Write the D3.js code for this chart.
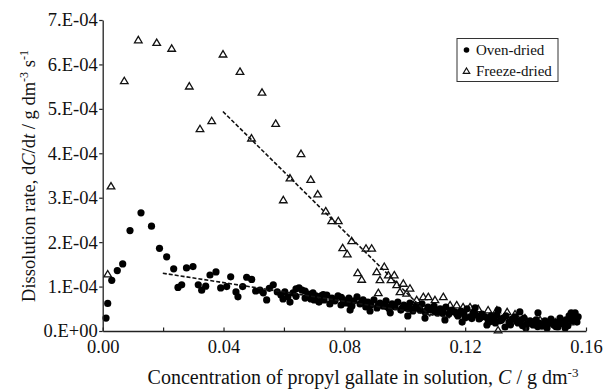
<!DOCTYPE html>
<html><head><meta charset="utf-8">
<script src="https://cdn.jsdelivr.net/npm/d3@7"></script>
<style>body{margin:0;background:#fff}svg{display:block}</style>
</head><body>
<svg id="chart" width="607" height="389"></svg>
<script>
// Concentration C (g dm^-3) and dissolution rate in units of 1e-4 g dm^-3 s^-1
const ovenC = [0.0011,0.00166,0.0030,0.00483,0.00662,0.00904,0.01268,0.01615,0.0188,0.02118,0.0235,0.02492,0.02615,0.02774,0.02989,0.03164,0.03277,0.0341,0.03552,0.0375,0.03906,0.04104,0.04237,0.04412,0.04478,0.04634,0.04766,0.04932,0.05064,0.05207,0.05316,0.05428,0.05515,0.05647,0.05779,
0.0590,0.0597,0.0603,0.0613,0.0620,0.0630,0.0640,0.0650,0.0660,0.0670,0.0680,0.0689,0.0696,0.0706,0.0716,0.0723,0.0733,0.0742,0.0752,0.0759,0.0769,0.0779,0.0789,0.0796,0.0805,0.0815,0.0825,0.0832,0.0842,0.0852,0.0862,0.0871,0.0878,0.0888,0.0898,0.0908,0.0918,0.0928,0.0938,0.0948,0.0958,0.0968,0.0977,0.0987,0.0997,0.1007,0.1017,0.1027,0.1037,0.1047,0.1057,0.1067,0.1077,0.1087,0.1097,0.1107,0.1117,0.1127,0.1136,0.1146,0.1156,0.1166,0.1176,0.1186,0.1196,0.1206,0.1216,0.1226,0.1236,0.1246,0.1256,0.1266,0.1276,0.1286,0.1296,0.1305,0.1315,0.1325,0.1335,0.1345,0.1355,0.1365,0.1375,0.1385,0.1395,0.1405,0.1415,0.1425,0.1435,0.1445,0.1454,0.1464,0.1474,0.1484,0.1494,0.1504,0.1514,0.1524,0.1534,0.1544,0.1554,0.1564,0.1574,
0.1233,0.1272,0.1309,0.1332,0.1381,0.1401,0.1441,0.1471,0.1507,0.1531,0.1551,0.1190,0.1133,0.1067,0.1010,0.0952,0.0885,0.0819,
0.0858,0.0885,0.0912,0.0940,0.0962,0.0992,0.1020,0.1050,0.1072,0.1100,0.1125,0.1150,0.1172,0.1200,0.1222,0.1250,0.1280,0.1300,0.1320,0.1350,0.1370,0.1390,0.1420,0.1440,0.1460,0.1480,0.1500,0.1520,0.1540,0.1560,0.1570,0.0640,0.0670,0.0700,0.0730,0.0760,0.0790,0.0820];
const ovenRate = [0.29,0.62,1.14,1.36,1.51,2.26,2.66,2.36,1.86,1.67,1.40,0.98,1.04,1.42,1.45,1.04,0.92,1.01,1.26,1.33,0.97,1.00,1.22,0.88,0.77,1.00,1.21,1.16,0.90,0.92,0.86,0.70,0.96,1.04,0.88,
0.81,0.72,0.88,0.77,0.65,0.86,0.95,0.97,0.92,0.90,0.83,0.72,0.86,0.79,0.65,0.79,0.70,0.81,0.61,0.74,0.68,0.79,0.585,0.70,0.63,0.74,0.56,0.68,0.77,0.61,0.70,0.54,0.65,0.585,0.70,0.52,0.63,0.56,0.68,0.50,0.61,0.54,0.65,0.47,0.585,0.52,0.63,0.45,0.56,0.50,0.61,0.43,0.54,0.47,0.56,0.41,0.50,0.45,0.54,0.38,0.47,0.43,0.34,0.45,0.38,0.50,0.32,0.41,0.36,0.27,0.38,0.32,0.25,0.34,0.27,0.36,0.23,0.29,0.34,0.20,0.27,0.32,0.18,0.25,0.29,0.16,0.23,0.135,0.25,0.18,0.11,0.23,0.16,0.27,0.135,0.20,0.29,0.16,0.25,0.34,0.23,0.41,0.32,
0.52,0.135,0.47,0.09,0.43,0.07,0.41,0.07,0.09,0.07,0.41,0.20,0.25,0.29,0.34,0.41,0.45,0.47,
0.66,0.62,0.58,0.55,0.57,0.52,0.50,0.48,0.46,0.44,0.40,0.42,0.38,0.30,0.28,0.30,0.20,0.18,0.24,0.14,0.22,0.12,0.20,0.10,0.14,0.20,0.10,0.20,0.12,0.28,0.20,0.78,0.74,0.70,0.82,0.72,0.76,0.60];

const freezeC = [0.00166,0.00275,0.00715,0.01179,0.01788,0.02284,0.02867,0.03221,0.03609,0.03983,0.04545,0.04926,0.05274,0.05727,0.05979,0.0620,0.06565,0.06886,0.07118,0.07383,0.07581,0.0780,0.07945,0.08098,0.08243,0.08442,0.08574,0.08717,0.08905,0.09071,0.09124,0.0918,0.09322,0.09455,0.09544,0.09653,0.09733,0.09842,0.09952,0.10064,0.10173,0.10395,0.10614,0.10779,0.1100,0.11276,0.1150,0.11719,0.1193,0.1216,0.1243,0.1276,0.1305,0.1309,0.1339,0.1365,0.1398,0.1448,0.1498,0.1547];
const freezeRate = [1.28,3.26,5.63,6.55,6.49,6.36,5.51,4.55,4.73,6.23,5.84,4.34,5.37,4.67,2.95,3.44,3.99,3.41,3.08,2.70,2.48,2.48,1.87,1.73,2.03,1.31,1.16,1.86,1.86,1.33,0.86,1.15,1.45,1.26,1.15,1.26,1.04,0.88,1.07,0.85,0.96,0.70,0.77,0.77,0.70,0.77,0.585,0.585,0.54,0.54,0.50,0.47,0.47,0.02,0.43,0.38,0.29,0.25,0.20,0.20];

const freezeFitC = [0.0398, 0.1085];
const freezeFitRate = [4.94, 0.33];
const ovenFitC = [0.0199, 0.115];
const ovenFitRate = [1.30, 0.30];

const xTicks = [0,0.02,0.04,0.06,0.08,0.10,0.12,0.14,0.16];
const xTickLabels = ["0.00","","0.04","","0.08","","0.12","","0.16"];
const yTicks = [0,1,2,3,4,5,6,7];
const yTickLabels = ["0.E+00","1.E-04","2.E-04","3.E-04","4.E-04","5.E-04","6.E-04","7.E-04"];
const seriesNames = ["Oven-dried","Freeze-dried"];

const svg = d3.select("#chart");
svg.append("rect").attr("width",607).attr("height",389).attr("fill","#fff");
const FONT = "'Liberation Serif','Times New Roman',serif";
const x = d3.scaleLinear().domain([0,0.16]).range([102.7,586]);
const y = d3.scaleLinear().domain([0,7]).range([331,20]);

const tri = "M0,-3.6L3.8,2.8L-3.8,2.8Z";

svg.append("g").selectAll("path").data(freezeC.map((c,i)=>[c,freezeRate[i]])).join("path")
  .attr("d",tri).attr("transform",d=>`translate(${x(d[0])},${y(d[1])})`)
  .attr("fill","#fff").attr("stroke","#111").attr("stroke-width",1.3);

svg.append("g").selectAll("circle").data(ovenC.map((c,i)=>[c,ovenRate[i]])).join("circle")
  .attr("cx",d=>x(d[0])).attr("cy",d=>y(d[1])).attr("r",3.6).attr("fill","#000");

const line = d3.line().x(d=>x(d[0])).y(d=>y(d[1]));
[[freezeFitC,freezeFitRate],[ovenFitC,ovenFitRate]].forEach(([cs,rs])=>{
  svg.append("path").attr("d",line(cs.map((c,i)=>[c,rs[i]])))
    .attr("fill","none").attr("stroke","#111").attr("stroke-width",1.6).attr("stroke-dasharray","4,2");
});

const xAxis = d3.axisBottom(x).tickValues(xTicks).tickFormat((d,i)=>xTickLabels[i]).tickSize(-3.5).tickSizeOuter(0).tickPadding(9);
const gx = svg.append("g").attr("transform","translate(0,331)").call(xAxis);
const yAxis = d3.axisLeft(y).tickValues(yTicks).tickFormat((d,i)=>yTickLabels[i]).tickSize(3.5).tickSizeOuter(0).tickPadding(1.5);
const gy = svg.append("g").attr("transform","translate(102.7,0)").call(yAxis);
[gx,gy].forEach(g=>{
  g.select(".domain").attr("stroke","#222").attr("stroke-width",1.3);
  g.selectAll(".tick line").attr("stroke","#222").attr("stroke-width",1.2);
  g.selectAll("text").attr("font-family",FONT).attr("font-size",18.5).attr("fill","#111");
});

const xt = svg.append("text").attr("x",363).attr("y",384).attr("text-anchor","middle")
  .attr("font-family",FONT).attr("font-size",20).attr("fill","#111");
xt.append("tspan").text("Concentration of propyl gallate in solution, ");
xt.append("tspan").attr("font-style","italic").text("C");
xt.append("tspan").text(" / g dm");
xt.append("tspan").attr("dy",-7).attr("font-size",13).text("-3");

const yt = svg.append("text").attr("transform","translate(35,176) rotate(-90)").attr("text-anchor","middle")
  .attr("font-family",FONT).attr("font-size",18.5).attr("fill","#111");
yt.append("tspan").text("Dissolution rate, d");
yt.append("tspan").attr("font-style","italic").text("C");
yt.append("tspan").text("/d");
yt.append("tspan").attr("font-style","italic").text("t");
yt.append("tspan").text(" / g dm");
yt.append("tspan").attr("dy",-7).attr("font-size",12).text("-3");
yt.append("tspan").attr("dy",7).text(" s");
yt.append("tspan").attr("dy",-7).attr("font-size",12).text("-1");

const lg = svg.append("g");
lg.append("rect").attr("x",457).attr("y",38.5).attr("width",101).attr("height",43)
  .attr("fill","#fff").attr("stroke","#333").attr("stroke-width",1);
lg.append("circle").attr("cx",466.5).attr("cy",50).attr("r",2.8).attr("fill","#000");
lg.append("path").attr("d","M0,-3L3.2,2.3L-3.2,2.3Z").attr("transform","translate(466.5,71)")
  .attr("fill","#fff").attr("stroke","#111").attr("stroke-width",1.2);
lg.selectAll("text.lbl").data(seriesNames).join("text").attr("class","lbl")
  .attr("x",476).attr("y",(d,i)=>i?75.5:55).attr("font-family",FONT).attr("font-size",15).attr("fill","#111").text(d=>d);
</script>
</body></html>
